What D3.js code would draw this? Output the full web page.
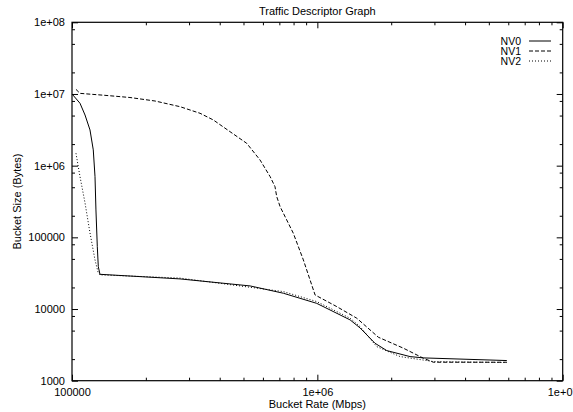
<!DOCTYPE html>
<html>
<head>
<meta charset="utf-8">
<script src="https://cdn.jsdelivr.net/npm/d3@7/dist/d3.min.js"></script>
<style>
  html, body { margin: 0; padding: 0; background: #fff; }
  svg { display: block; font-family: "Liberation Sans", Arial, Helvetica, sans-serif; }
  text { fill: #000; }
</style>
</head>
<body>
<svg id="chart" width="573" height="412"></svg>
<script>
// Bucket rate (Mbps) / bucket size (bytes) pairs for each traffic descriptor
const nv0Rate = [1.0e5, 1.078e5, 1.13e5, 1.184e5, 1.221e5, 1.241e5, 1.252e5, 1.268e5, 1.28e5, 1.3e5,
                 2.756e5, 5.32e5, 7.27e5, 9.94e5, 1.36e6, 1.493e6, 1.718e6, 1.919e6, 2.387e6, 2.704e6, 5.92e6];
const nv0Size = [1.0e7, 7.42e6, 5.09e6, 3.15e6, 1.66e6, 7.03e5, 2.41e5, 7.41e4, 3.9e4, 3.05e4,
                 2.63e4, 2.1e4, 1.66e4, 1.2e4, 7.05e3, 5.45e3, 3.33e3, 2.63e3, 2.17e3, 2.08e3, 1.91e3];

const nv1Rate = [1.038e5, 1.078e5, 1.35e5, 1.723e5, 2.18e5, 2.756e5, 3.325e5, 3.767e5, 4.406e5, 5.154e5,
                 5.84e5, 6.42e5, 6.72e5, 6.83e5, 7.05e5, 7.5e5, 7.98e5, 8.77e5, 9.79e5, 1.2e6,
                 1.448e6, 1.773e6, 2.243e6, 2.704e6, 2.97e6, 5.92e6];
const nv1Size = [1.16e7, 1.02e7, 9.6e6, 8.93e6, 7.98e6, 6.65e6, 5.38e6, 4.34e6, 2.98e6, 2.05e6,
                 1.2e6, 7.03e5, 5.09e5, 3.7e5, 2.68e5, 1.75e5, 1.14e5, 4.84e4, 1.57e4, 1.08e4,
                 7.44e3, 4.04e3, 2.84e3, 2.06e3, 1.81e3, 1.81e3];

const nv2Rate = [1.038e5, 1.078e5, 1.13e5, 1.184e5, 1.241e5, 1.28e5, 1.3e5,
                 2.756e5, 7.27e5, 9.94e5, 1.36e6, 1.493e6, 1.746e6, 2.174e6, 2.97e6, 5.92e6];
const nv2Size = [1.49e6, 7.03e5, 3.02e5, 1.15e5, 4.84e4, 3.16e4, 3.0e4,
                 2.7e4, 1.75e4, 1.27e4, 7.44e3, 5.69e3, 2.99e3, 2.17e3, 1.85e3, 1.79e3];

const seriesNames = ["NV0", "NV1", "NV2"];

// Axis tick values and labels
const xMajorTicks = [1e5, 1e6, 1e7];
const xMajorLabels = ["100000", "1e+06", "1e+07"];
const yMajorTicks = [1e3, 1e4, 1e5, 1e6, 1e7, 1e8];
const yMajorLabels = ["1000", "10000", "100000", "1e+06", "1e+07", "1e+08"];
const xMinorMultipliers = [2, 3, 4, 5, 6, 7, 8, 9];
const yMinorMultipliers = [2, 5, 8];

const titleText = "Traffic Descriptor Graph";
const xTitle = "Bucket Rate (Mbps)";
const yTitle = "Bucket Size (Bytes)";

// ---- layout ----
const plotL = 72, plotR = 562.7, plotT = 22.3, plotB = 380.7;
const svg = d3.select("#chart");

const x = d3.scaleLog().domain([1e5, 1e7]).range([plotL, plotR]);
const y = d3.scaleLog().domain([1e3, 1e8]).range([plotB, plotT]);

function minors(majors, mults) {
  const out = [];
  for (let i = 0; i < majors.length - 1; i++)
    mults.forEach(m => out.push(majors[i] * m));
  return out;
}
const xMinor = minors(xMajorTicks, xMinorMultipliers);
const yMinor = minors(yMajorTicks, yMinorMultipliers);

const MAJ = 6, MIN = 3;

function styleAxis(g) {
  g.select(".domain").remove();
  g.selectAll(".tick line").attr("stroke", "#000").attr("stroke-width", 1);
  g.selectAll("text").attr("font-size", 11).attr("fill", "#000")
    .attr("font-family", "'Liberation Sans', Arial, Helvetica, sans-serif");
}

const xLabel = d => xMajorLabels[xMajorTicks.indexOf(d)];
const yLabel = d => yMajorLabels[yMajorTicks.indexOf(d)];

// bottom axis: labelled majors, inward ticks
svg.append("g").attr("transform", `translate(0,${plotB})`)
  .call(d3.axisBottom(x).tickValues(xMajorTicks).tickFormat(xLabel).tickSizeInner(-MAJ).tickSizeOuter(0).tickPadding(5))
  .call(styleAxis)
  .call(g => g.selectAll("text").attr("dy", null).attr("y", 15));
svg.append("g").attr("transform", `translate(0,${plotB})`)
  .call(d3.axisBottom(x).tickValues(xMinor).tickFormat("").tickSizeInner(-MIN).tickSizeOuter(0))
  .call(styleAxis);
// top axis mirror
svg.append("g").attr("transform", `translate(0,${plotT})`)
  .call(d3.axisTop(x).tickValues(xMajorTicks).tickFormat("").tickSizeInner(-MAJ).tickSizeOuter(0))
  .call(styleAxis);
svg.append("g").attr("transform", `translate(0,${plotT})`)
  .call(d3.axisTop(x).tickValues(xMinor).tickFormat("").tickSizeInner(-MIN).tickSizeOuter(0))
  .call(styleAxis);

// left axis
svg.append("g").attr("transform", `translate(${plotL},0)`)
  .call(d3.axisLeft(y).tickValues(yMajorTicks).tickFormat(yLabel).tickSizeInner(-MAJ).tickSizeOuter(0))
  .call(styleAxis)
  .call(g => g.selectAll("text").attr("x", -7));
svg.append("g").attr("transform", `translate(${plotL},0)`)
  .call(d3.axisLeft(y).tickValues(yMinor).tickFormat("").tickSizeInner(-MIN).tickSizeOuter(0))
  .call(styleAxis);
// right axis mirror
svg.append("g").attr("transform", `translate(${plotR},0)`)
  .call(d3.axisRight(y).tickValues(yMajorTicks).tickFormat("").tickSizeInner(-MAJ).tickSizeOuter(0))
  .call(styleAxis);
svg.append("g").attr("transform", `translate(${plotR},0)`)
  .call(d3.axisRight(y).tickValues(yMinor).tickFormat("").tickSizeInner(-MIN).tickSizeOuter(0))
  .call(styleAxis);

// frame
svg.append("rect")
  .attr("x", plotL).attr("y", plotT)
  .attr("width", plotR - plotL).attr("height", plotB - plotT)
  .attr("fill", "none").attr("stroke", "#000").attr("stroke-width", 1.2);

// titles
svg.append("text").attr("x", (plotL + plotR) / 2).attr("y", 15)
  .attr("text-anchor", "middle").attr("font-size", 11).text(titleText);
svg.append("text").attr("x", (plotL + plotR) / 2).attr("y", 408)
  .attr("text-anchor", "middle").attr("font-size", 11).text(xTitle);
svg.append("text")
  .attr("transform", `translate(21,${(plotT + plotB) / 2}) rotate(-90)`)
  .attr("text-anchor", "middle").attr("font-size", 11).text(yTitle);

// series
const dashes = [null, "4,2", "1,2"];
const series = [
  { name: seriesNames[0], rate: nv0Rate, size: nv0Size },
  { name: seriesNames[1], rate: nv1Rate, size: nv1Size },
  { name: seriesNames[2], rate: nv2Rate, size: nv2Size }
];

const line = d3.line().x(d => x(d[0])).y(d => y(d[1]));

const plot = svg.append("g");
series.forEach((s, i) => {
  const pts = s.rate.map((r, k) => [r, s.size[k]]);
  plot.append("path")
    .attr("d", line(pts))
    .attr("fill", "none")
    .attr("stroke", "#000")
    .attr("stroke-width", 1)
    .attr("stroke-dasharray", dashes[i]);
});

// legend
const legend = svg.append("g");
series.forEach((s, i) => {
  const ly = 41 + i * 10;
  legend.append("text").attr("x", 521).attr("y", ly + 4)
    .attr("text-anchor", "end").attr("font-size", 10.5).text(s.name);
  legend.append("line")
    .attr("x1", 529).attr("x2", 551).attr("y1", ly).attr("y2", ly)
    .attr("stroke", "#000").attr("stroke-width", 1)
    .attr("stroke-dasharray", dashes[i]);
});
</script>
</body>
</html>
